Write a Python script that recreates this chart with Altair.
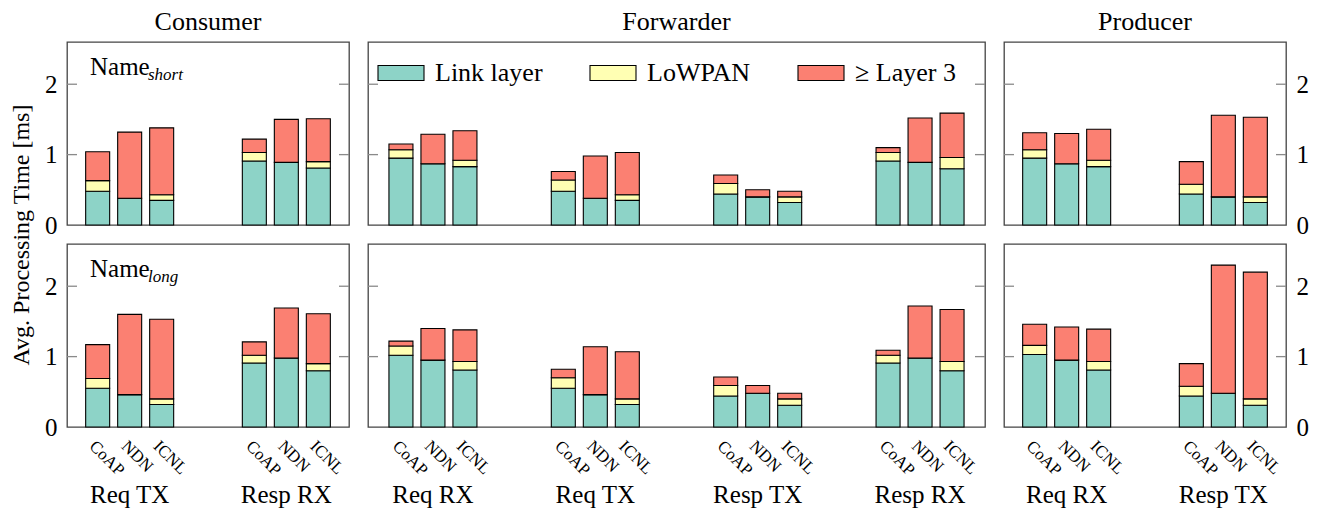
import altair as alt
import pandas as pd

protocols = ["CoAP", "NDN", "ICNL"]
layers = ["Link layer", "LoWPAN", "≥ Layer 3"]
layer_colors = ["#8dd3c7", "#ffffb3", "#fb8072"]
y_ticks = [0, 1, 2]
inner_ticks = [1, 2]

consumer_groups = ["Req TX", "Resp RX"]
forwarder_groups = ["Req RX", "Req TX", "Resp TX", "Resp RX"]
producer_groups = ["Req RX", "Resp TX"]

# values per group, in order CoAP, NDN, ICNL  (ms)
# ---- Name_short (top row)
short_consumer_link = [0.48, 0.38, 0.35, 0.91, 0.89, 0.81]
short_consumer_lowpan = [0.15, 0.00, 0.08, 0.12, 0.00, 0.09]
short_consumer_l3 = [0.41, 0.94, 0.95, 0.19, 0.61, 0.61]

short_forwarder_link = [0.95, 0.87, 0.83, 0.48, 0.38, 0.35, 0.44, 0.40, 0.32, 0.91, 0.89, 0.80]
short_forwarder_lowpan = [0.12, 0.00, 0.09, 0.16, 0.00, 0.08, 0.15, 0.00, 0.08, 0.12, 0.00, 0.16]
short_forwarder_l3 = [0.08, 0.42, 0.42, 0.12, 0.60, 0.60, 0.12, 0.10, 0.08, 0.07, 0.63, 0.63]

short_producer_link = [0.95, 0.87, 0.83, 0.44, 0.40, 0.32]
short_producer_lowpan = [0.12, 0.00, 0.09, 0.14, 0.00, 0.08]
short_producer_l3 = [0.24, 0.43, 0.44, 0.32, 1.16, 1.13]

# ---- Name_long (bottom row)
long_consumer_link = [0.55, 0.46, 0.32, 0.91, 0.98, 0.80]
long_consumer_lowpan = [0.14, 0.00, 0.08, 0.11, 0.00, 0.10]
long_consumer_l3 = [0.48, 1.14, 1.13, 0.19, 0.71, 0.71]

long_forwarder_link = [1.02, 0.95, 0.81, 0.55, 0.46, 0.32, 0.44, 0.48, 0.31, 0.91, 0.98, 0.80]
long_forwarder_lowpan = [0.13, 0.00, 0.12, 0.15, 0.00, 0.08, 0.15, 0.00, 0.09, 0.11, 0.00, 0.13]
long_forwarder_l3 = [0.07, 0.45, 0.45, 0.12, 0.68, 0.67, 0.12, 0.11, 0.08, 0.07, 0.74, 0.74]

long_producer_link = [1.03, 0.95, 0.81, 0.44, 0.48, 0.31]
long_producer_lowpan = [0.13, 0.00, 0.12, 0.14, 0.00, 0.09]
long_producer_l3 = [0.30, 0.47, 0.46, 0.32, 1.82, 1.80]

FONT = "Liberation Serif"
H = 183
BAR_BLOCK = 88  # 3 bars of 24px, 32px apart


def make_df(groups, link, lowpan, l3):
    rows = []
    for gi, g in enumerate(groups):
        for pi_, p in enumerate(protocols):
            k = gi * 3 + pi_
            for li, (lname, vals) in enumerate(zip(layers, [link, lowpan, l3])):
                rows.append({"group": g, "protocol": p, "layer": lname,
                             "layer_idx": li, "value": vals[k]})
    return pd.DataFrame(rows)


def panel(groups, link, lowpan, l3, width, left_axis=False, right_axis=False,
          bottom=False, title=None, name_sub=None, legend=False, ytitle=False):
    n = len(groups)
    step = width / (n - 0.2)
    pin = 1 - BAR_BLOCK / step
    pout = (pin - 0.2) / 2
    xscale = alt.Scale(paddingInner=pin, paddingOuter=pout)
    offscale = alt.Scale(paddingInner=0.25, paddingOuter=0)
    yscale = alt.Scale(domain=[0, 2.6], nice=False, zero=True)

    df = make_df(groups, link, lowpan, l3)

    if bottom:
        xaxis = alt.Axis(title=None, labelAngle=0, labelPadding=55, ticks=False,
                         domain=False, labelFontSize=25, labelFont=FONT,
                         labelColor="black")
    else:
        xaxis = None

    if left_axis or right_axis:
        axis_kw = dict(orient="left" if left_axis else "right", values=y_ticks,
                       ticks=False, domain=False, grid=False, labelPadding=10,
                       labelFontSize=25, labelFont=FONT, labelColor="black",
                       format="d")
        if ytitle:
            axis_kw.update(title="Avg. Processing Time [ms]", titleFont=FONT,
                           titleFontSize=24, titleFontWeight="normal",
                           titleColor="black", titleAngle=270,
                           titleBaseline="alphabetic", titleX=-39,
                           titleY=H + 9.5)
        else:
            axis_kw.update(title=None)
        yaxis = alt.Axis(**axis_kw)
    else:
        yaxis = None

    if legend:
        leg = alt.Legend(orient="none", legendX=9, legendY=7, direction="horizontal",
                         title=None, symbolType="M-1,-0.326H1V0.326H-1Z",
                         symbolSize=2116, symbolStrokeColor="black",
                         symbolStrokeWidth=1.1, symbolOpacity=1,
                         labelFontSize=26, labelFont=FONT, labelColor="black",
                         labelOffset=10, columnPadding=44, padding=0,
                         labelLimit=0)
    else:
        leg = None

    X = alt.X("group:N", sort=groups, scale=xscale, axis=xaxis)
    XO = alt.XOffset("protocol:N", sort=protocols, scale=offscale)
    Y = alt.Y("value:Q", stack="zero", scale=yscale, axis=yaxis)

    bars = alt.Chart(df).mark_bar(stroke="black", strokeWidth=1.1).encode(
        x=X, xOffset=XO, y=Y,
        color=alt.Color("layer:N", sort=layers,
                        scale=alt.Scale(domain=layers, range=layer_colors),
                        legend=leg),
        order=alt.Order("layer_idx:Q", sort="ascending"),
    )

    tick_df = pd.DataFrame({"value": inner_ticks})
    Yt = alt.Y("value:Q", scale=yscale, axis=yaxis)
    lticks = alt.Chart(tick_df).mark_rule(color="#8a8a8a", strokeWidth=1.3).encode(
        y=Yt, x=alt.value(0), x2=alt.value(10))
    rticks = alt.Chart(tick_df).mark_rule(color="#8a8a8a", strokeWidth=1.3).encode(
        y=Yt, x=alt.value(width - 10), x2=alt.value(width))

    layers_list = [bars, lticks, rticks]

    if bottom:
        lab_df = pd.DataFrame([{"group": g, "protocol": p} for g in groups for p in protocols])
        labs = alt.Chart(lab_df).mark_text(angle=45, align="left", baseline="top",
                                           fontSize=17, font=FONT, color="black").encode(
            x=X, xOffset=XO, y=alt.value(H + 11), text="protocol:N")
        layers_list.append(labs)

    if name_sub:
        name_df = pd.DataFrame({"t": ["Name"], "s": [name_sub]})
        nm = alt.Chart(name_df).mark_text(align="left", baseline="alphabetic",
                                          fontSize=25, font=FONT, color="black").encode(
            x=alt.value(23), y=alt.value(33), text="t:N")
        sb = alt.Chart(name_df).mark_text(align="left", baseline="alphabetic",
                                          fontSize=17, font=FONT, fontStyle="italic",
                                          color="black").encode(
            x=alt.value(81), y=alt.value(38), text="s:N")
        layers_list += [nm, sb]

    if title:
        title_df = pd.DataFrame({"t": [title]})
        tt = alt.Chart(title_df).mark_text(align="center", baseline="alphabetic",
                                           fontSize=26, font=FONT, color="black").encode(
            x=alt.value(width / 2), y=alt.value(-12), text="t:N")
        layers_list.append(tt)

    return alt.layer(*layers_list).properties(width=width, height=H)


panels = [
    panel(consumer_groups, short_consumer_link, short_consumer_lowpan, short_consumer_l3,
          282, left_axis=True, title="Consumer", name_sub="short", ytitle=True),
    panel(forwarder_groups, short_forwarder_link, short_forwarder_lowpan, short_forwarder_l3,
          617, title="Forwarder", legend=True),
    panel(producer_groups, short_producer_link, short_producer_lowpan, short_producer_l3,
          282, right_axis=True, title="Producer"),
    panel(consumer_groups, long_consumer_link, long_consumer_lowpan, long_consumer_l3,
          282, left_axis=True, bottom=True, name_sub="long"),
    panel(forwarder_groups, long_forwarder_link, long_forwarder_lowpan, long_forwarder_l3,
          617, bottom=True),
    panel(producer_groups, long_producer_link, long_producer_lowpan, long_producer_l3,
          282, right_axis=True, bottom=True),
]

chart = alt.concat(*panels, columns=3, spacing=19, bounds="flush").resolve_scale(
    color="independent", x="independent", y="independent"
).properties(
    padding={"left": 0, "top": 0, "right": 0, "bottom": 0},
).configure(font=FONT).configure_view(stroke="#444444", strokeWidth=1.3)

chart.save("out.html", embed_options={"renderer": "svg", "actions": False})
